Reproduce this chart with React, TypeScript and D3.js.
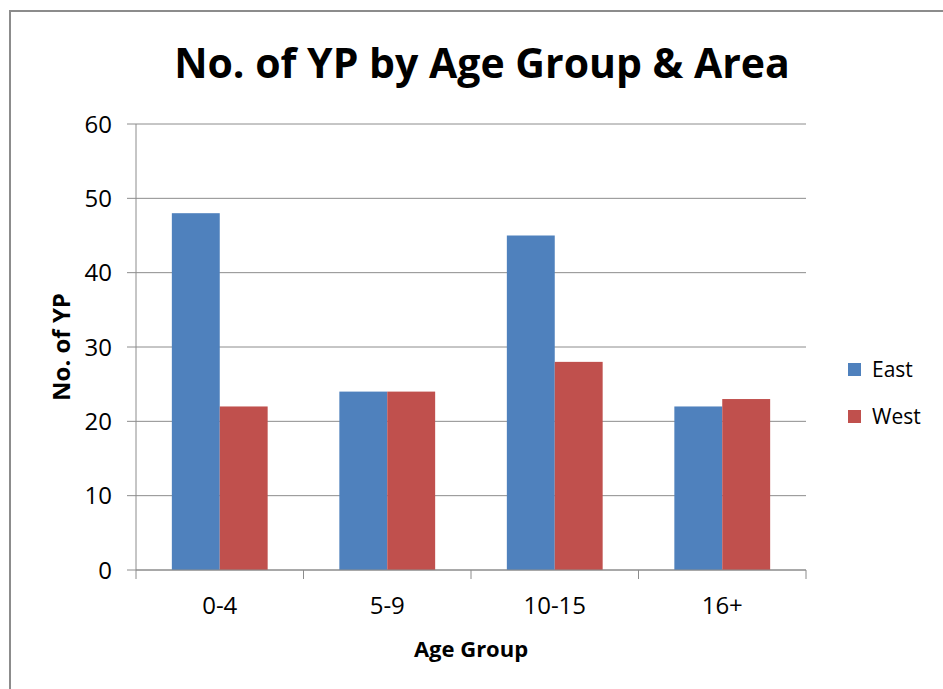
import React, { useEffect, useRef } from 'react';
import * as d3 from 'd3';

const categories = ['0-4', '5-9', '10-15', '16+'];
const seriesNames = ['East', 'West'];
const eastValues = [48, 24, 45, 22];
const westValues = [22, 24, 28, 23];
const yTicks = [0, 10, 20, 30, 40, 50, 60];

const colors = ['#4F81BD', '#C0504D'];
const font = '"Open Sans", sans-serif';

const App = () => {
  const svgRef = useRef<SVGSVGElement | null>(null);

  useEffect(() => {
    const svg = d3.select(svgRef.current);
    svg.selectAll('*').remove();

    const width = 943;
    const height = 689;
    const margin = { left: 136, right: 137, top: 124, bottom: 119 };

    // chart frame (cropped on right and bottom)
    svg.append('rect')
      .attr('x', 10).attr('y', 11)
      .attr('width', width + 20).attr('height', height + 20)
      .attr('fill', '#fff')
      .attr('stroke', '#8c8c8c')
      .attr('stroke-width', 2);

    const x = d3.scaleBand<string>()
      .domain(categories)
      .range([margin.left, width - margin.right]);

    const y = d3.scaleLinear()
      .domain([0, 60])
      .range([height - margin.bottom, margin.top]);

    const barW = x.bandwidth() * 0.286;
    const xs = d3.scaleBand<string>()
      .domain(seriesNames)
      .range([0, barW * 2]);

    // gridlines
    svg.append('g')
      .selectAll('line')
      .data(yTicks)
      .enter()
      .append('line')
      .attr('x1', margin.left - 9)
      .attr('x2', width - margin.right)
      .attr('y1', d => y(d))
      .attr('y2', d => y(d))
      .attr('stroke', '#8c8c8c')
      .attr('stroke-width', 1);

    // y tick labels
    svg.append('g')
      .selectAll('text')
      .data(yTicks)
      .enter()
      .append('text')
      .attr('x', 112)
      .attr('y', d => y(d))
      .attr('dy', '0.36em')
      .attr('text-anchor', 'end')
      .style('font-family', font)
      .style('font-size', '24px')
      .attr('fill', '#000')
      .text(d => d);

    // bars
    const data = [eastValues, westValues];
    const groups = svg.append('g')
      .selectAll('g')
      .data(categories)
      .enter()
      .append('g')
      .attr('transform', c => `translate(${(x(c) as number) + x.bandwidth() / 2 - barW},0)`);

    groups.selectAll('rect')
      .data((c, i) => seriesNames.map((s, si) => ({ s, si, v: data[si][i] })))
      .enter()
      .append('rect')
      .attr('x', d => xs(d.s) as number)
      .attr('y', d => y(d.v))
      .attr('width', xs.bandwidth())
      .attr('height', d => y(0) - y(d.v))
      .attr('fill', d => colors[d.si]);

    // y axis line
    svg.append('line')
      .attr('x1', margin.left).attr('x2', margin.left)
      .attr('y1', y(60)).attr('y2', y(0))
      .attr('stroke', '#8c8c8c');

    // x axis line and ticks
    svg.append('line')
      .attr('x1', margin.left).attr('x2', width - margin.right)
      .attr('y1', y(0)).attr('y2', y(0))
      .attr('stroke', '#8c8c8c');

    const bounds = categories.map(c => x(c) as number).concat([width - margin.right]);
    svg.append('g')
      .selectAll('line')
      .data(bounds)
      .enter()
      .append('line')
      .attr('x1', d => d).attr('x2', d => d)
      .attr('y1', y(0)).attr('y2', y(0) + 9)
      .attr('stroke', '#8c8c8c');

    // category labels
    svg.append('g')
      .selectAll('text')
      .data(categories)
      .enter()
      .append('text')
      .attr('x', c => (x(c) as number) + x.bandwidth() / 2)
      .attr('y', y(0) + 35)
      .attr('dy', '0.36em')
      .attr('text-anchor', 'middle')
      .style('font-family', font)
      .style('font-size', '24px')
      .text(c => c);

    // title
    svg.append('text')
      .attr('x', 482)
      .attr('y', 78)
      .attr('text-anchor', 'middle')
      .style('font-family', font)
      .style('font-size', '41px')
      .style('font-weight', 'bold')
      .text('No. of YP by Age Group & Area');

    // axis titles
    svg.append('text')
      .attr('x', 471)
      .attr('y', 649)
      .attr('dy', '0.36em')
      .attr('text-anchor', 'middle')
      .style('font-family', font)
      .style('font-size', '22px')
      .style('font-weight', 'bold')
      .text('Age Group');

    svg.append('text')
      .attr('transform', 'translate(61,347) rotate(-90)')
      .attr('dy', '0.36em')
      .attr('text-anchor', 'middle')
      .style('font-family', font)
      .style('font-size', '24px')
      .style('font-weight', 'bold')
      .text('No. of YP');

    // legend
    const legend = svg.append('g')
      .selectAll('g')
      .data(seriesNames)
      .enter()
      .append('g')
      .attr('transform', (d, i) => `translate(848,${363 + i * 47})`);

    legend.append('rect')
      .attr('width', 13).attr('height', 13)
      .attr('fill', (d, i) => colors[i]);

    legend.append('text')
      .attr('x', 24)
      .attr('y', 6.5)
      .attr('dy', '0.36em')
      .style('font-family', font)
      .style('font-size', '21px')
      .text(d => d);
  }, []);

  return (
    <svg
      ref={svgRef}
      width={943}
      height={689}
      style={{ position: 'absolute', left: 0, top: 0, display: 'block' }}
    />
  );
};

export default App;
